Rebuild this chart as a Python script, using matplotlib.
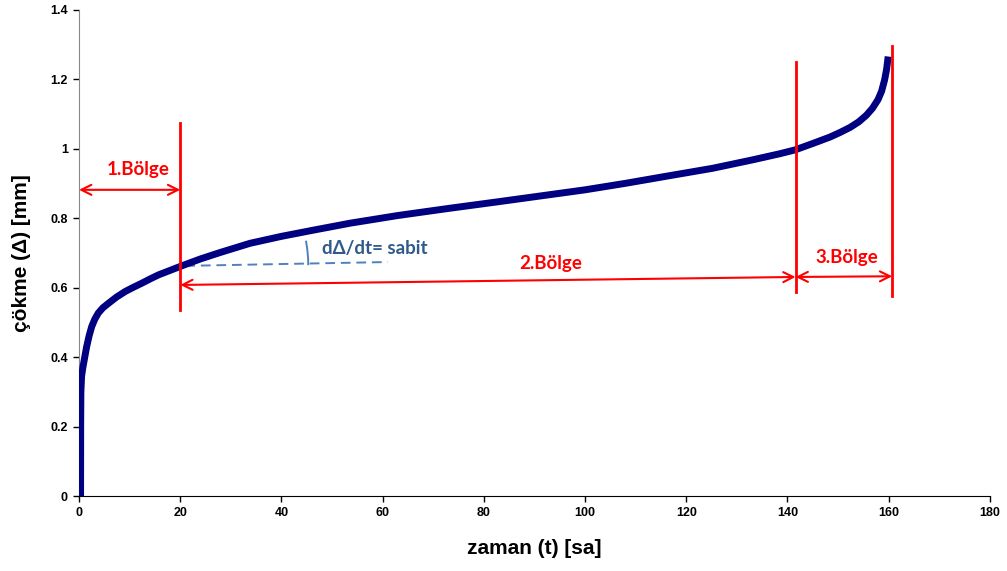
import math
import matplotlib
matplotlib.use('Agg')
import matplotlib.pyplot as plt
from matplotlib.patches import Arc

# creep curve
t = [0.3, 0.32, 0.36, 0.5, 0.75, 1.0, 1.5, 2.0, 2.5, 3.1, 3.8, 4.7, 5.8, 7.4, 9.1,
     10.7, 12.4, 14.0, 15.7, 18.0, 20.3, 24, 28, 33.8, 40, 46, 53.6,
     63, 73.3, 83, 92, 100, 108.1, 116, 125.2, 133, 138.5, 141.5, 145.1, 148.4,
     150.5, 152.4, 154.1, 155.6, 156.8, 157.9, 158.6, 159.2, 159.6, 159.9]
defl = [0.0, 0.2, 0.3, 0.345, 0.37, 0.39, 0.43, 0.462, 0.488, 0.509, 0.527, 0.542,
        0.555, 0.573, 0.589, 0.601, 0.613, 0.625, 0.637, 0.650, 0.663, 0.683, 0.702,
        0.728, 0.748, 0.765, 0.786, 0.808, 0.829, 0.848, 0.866, 0.882, 0.901, 0.921,
        0.944, 0.968, 0.986, 0.997, 1.016, 1.034, 1.048, 1.062, 1.078, 1.097, 1.117,
        1.142, 1.166, 1.199, 1.23, 1.266]

# region boundaries (t, y_bottom, y_top)
bounds_t = [20, 141.6, 160.7]
bounds_lo = [0.536, 0.588, 0.576]
bounds_hi = [1.075, 1.25, 1.297]

labels = ['1.Bölge', '2.Bölge', '3.Bölge']

TICK_FONT = 'Liberation Sans'
LABEL_FONT = 'Lato'

fig = plt.figure(figsize=(10.07, 5.71), dpi=100)
ax = fig.add_axes([0.0785, 0.1313, 0.9045, 0.8512])

ax.plot(t, defl, color='#000080', linewidth=5, solid_capstyle='butt',
        solid_joinstyle='round', zorder=3)

for x, lo, hi in zip(bounds_t, bounds_lo, bounds_hi):
    ax.plot([x, x], [lo, hi], color='red', linewidth=2, zorder=4)

arrow = dict(arrowstyle='<->', color='red', lw=1.5, shrinkA=0, shrinkB=0,
             mutation_scale=18)
ax.annotate('', xy=(0, 0.882), xytext=(bounds_t[0], 0.882), arrowprops=arrow)
ax.annotate('', xy=(bounds_t[0], 0.608), xytext=(bounds_t[1], 0.631), arrowprops=arrow)
ax.annotate('', xy=(bounds_t[1], 0.631), xytext=(bounds_t[2], 0.633), arrowprops=arrow)

lab_pos = [(11.7, 0.94), (93.3, 0.671), (151.8, 0.686)]
for (x, y), s in zip(lab_pos, labels):
    ax.text(x, y, s, color='red', fontsize=13.5, fontweight='bold',
            family=LABEL_FONT, ha='center', va='center')

# slope annotation: dashed tangent + small angle arc
ax.plot([21, 61], [0.663, 0.674], color='#4F81BD', linewidth=1.4,
        linestyle=(0, (5, 3)), zorder=2)
px_x = 911 / 180   # pixels per hour
px_y = 486 / 1.4   # pixels per mm
arc_end = math.degrees(math.atan(math.tan(math.radians(11)) * px_x / px_y))
ax.add_patch(Arc((20, 0.665), 2 * 128 / px_x, 2 * 128 / px_y, theta1=0,
                 theta2=arc_end, color='#4F81BD', linewidth=1.4))
ax.text(58.5, 0.712, 'dΔ/dt= sabit', color='#2F5A8A', fontsize=13.5,
        fontweight='bold', family=LABEL_FONT, ha='center', va='center')

ax.set_xlim(0, 180)
ax.set_ylim(0, 1.4)
ax.set_xticks(range(0, 181, 20))
ax.set_yticks([0, 0.2, 0.4, 0.6, 0.8, 1.0, 1.2, 1.4])
ax.set_yticklabels(['0', '0.2', '0.4', '0.6', '0.8', '1', '1.2', '1.4'])
for lbl in ax.get_xticklabels() + ax.get_yticklabels():
    lbl.set_fontfamily(TICK_FONT)
    lbl.set_fontweight('bold')
    lbl.set_fontsize(9)
ax.tick_params(direction='out', length=4, width=1, pad=4)

ax.spines['top'].set_visible(False)
ax.spines['right'].set_visible(False)
ax.spines['left'].set_color('#888888')
ax.spines['bottom'].set_color('black')

ax.set_xlabel('zaman (t) [sa]', fontsize=15, fontweight='bold', family=TICK_FONT,
              labelpad=14)
ax.set_ylabel('çökme (Δ) [mm]', fontsize=15, fontweight='bold', family=TICK_FONT,
              labelpad=14)

fig.savefig('out.png', dpi=100)
plt.close()
